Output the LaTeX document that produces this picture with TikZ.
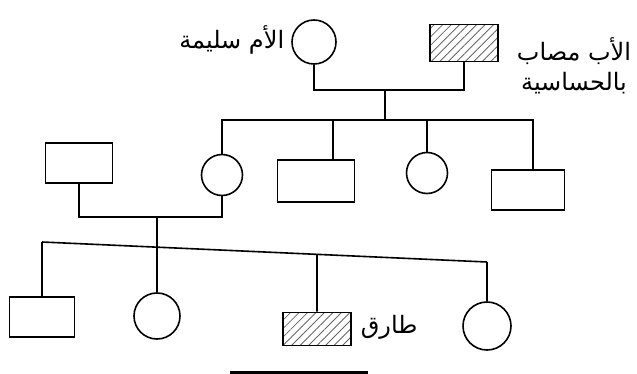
\documentclass[tikz,border=0pt]{standalone}
\usepackage{fontspec}
\newfontfamily\arabicfont[Script=Arabic]{DejaVu Sans}
\TeXXeTstate=1
\usetikzlibrary{patterns.meta,calc}
\begin{document}
\begin{tikzpicture}[x=1pt,y=-1pt,line width=1.6pt,
  malebox/.style={draw,rectangle,inner sep=0pt},
  femalecirc/.style={draw,circle,inner sep=0pt},
  affected/.style={pattern={Lines[angle=45,distance=6pt,line width=0.8pt]},pattern color=black!60},
  lbl/.style={font=\arabicfont\fontsize{24}{30}\selectfont,align=center,inner sep=0pt}]
\useasboundingbox (0,0) rectangle (637,374);
% generation I
\node[femalecirc,minimum size=44pt] (mother) at (314,42) {};
\node[malebox,affected,minimum width=68pt,minimum height=37pt] (father) at (464,43) {};
\node[lbl,anchor=east] (mlabel) at (285,40) {\beginR الأم سليمة\endR};
\node[lbl] (flabel) at (574,66) {\beginR الأب مصاب\endR\\\beginR بالحساسية\endR};
\coordinate (m1) at (385,90);
\coordinate (s1) at (385,120);
\draw (mother.south) |- (m1) -| (father.south);
\draw (m1) -- (s1);
% generation II
\node[malebox,minimum width=67pt,minimum height=40pt] (h) at (79,163) {};
\node[femalecirc,minimum size=41pt] (d1) at (222,175) {};
\node[malebox,minimum width=77pt,minimum height=42pt] (b2) at (316,181) {};
\node[femalecirc,minimum size=41pt] (d2) at (427,173) {};
\node[malebox,minimum width=73pt,minimum height=40pt] (b3) at (528,190) {};
\coordinate (b2t) at ([xshift=17pt]b2.north);
\coordinate (b3t) at ([xshift=5pt]b3.north);
\draw (d1.north) |- (s1) -| (b3t);
\draw (b2t) -- (b2t |- s1);
\draw (d2.north) -- (d2.north |- s1);
\coordinate (m2) at (157,217);
\draw (h.south) |- (m2) -| (d1.south);
% generation III
\coordinate (gl) at (42,242);
\coordinate (gr) at (487,262);
\node[malebox,minimum width=65pt,minimum height=40pt] (g1) at (42,317) {};
\node[femalecirc,minimum size=46pt] (g2) at (157,316) {};
\node[malebox,affected,minimum width=68pt,minimum height=33pt] (g3) at (317,329) {};
\node[femalecirc,minimum size=48pt] (g4) at (487,326) {};
\node[lbl,anchor=west] (tlabel) at (360,327) {\beginR طارق\endR};
\draw (gl) -- (gr);
\draw (gl) -- (g1.north);
\draw (m2) -- (g2.north);
\draw (g3.north) -- ($(gl)!0.618!(gr)$);
\draw (gr) -- (g4.north);
% underline stroke at bottom
\coordinate (ul1) at (230,372);
\coordinate (ul2) at (368,372);
\draw[line width=3pt] (ul1) -- (ul2);
\end{tikzpicture}
\end{document}
